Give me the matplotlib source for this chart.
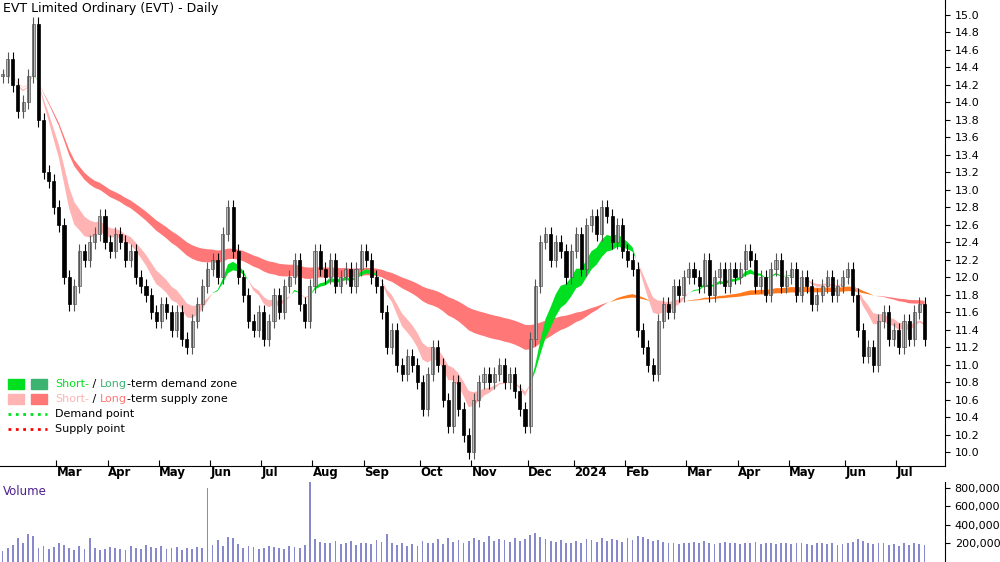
import numpy as np
import pandas as pd
import matplotlib
matplotlib.use("Agg")
import matplotlib.pyplot as plt
from matplotlib.patches import Rectangle

# closes, one candle per two trading days (Feb 2023 - Jul 2024)
closes = [14.3, 14.5, 14.2, 13.9, 14.0, 14.3, 14.9, 13.8, 13.2, 13.1, 12.8,
          12.6, 12.0, 11.7, 11.9, 12.3, 12.2, 12.4, 12.5, 12.7, 12.4,
          12.3, 12.5, 12.4, 12.2, 12.3, 12.0, 11.9, 11.8, 11.6, 11.5,
          11.7, 11.6, 11.4, 11.6, 11.3, 11.2, 11.5, 11.7, 11.9, 12.1,
          12.2, 12.0, 12.5, 12.8, 12.3, 12.0, 11.8, 11.5, 11.4, 11.6,
          11.3, 11.5, 11.8, 11.6, 11.9, 12.0, 12.2, 11.7, 11.5, 11.9,
          12.3, 12.1, 12.0, 12.2, 11.9, 12.0, 12.1, 11.9, 12.1, 12.3,
          12.2, 12.0, 11.9, 11.6, 11.2, 11.4, 11.0, 10.9, 11.1, 11.0, 10.8,
          10.5, 10.9, 11.2, 11.0, 10.6, 10.3, 10.8, 10.5, 10.2, 10.0,
          10.6, 10.8, 10.9, 10.8, 10.9, 11.0, 10.8, 10.9, 10.7, 10.5, 10.3,
          11.3, 11.9, 12.4, 12.5, 12.2, 12.4, 12.3, 12.0, 12.3,
          12.5, 12.1, 12.6, 12.7, 12.5, 12.8, 12.7, 12.4, 12.6, 12.3,
          12.2, 12.1, 11.4, 11.2, 11.0, 10.9, 11.5, 11.7, 11.6, 11.9, 11.8, 12.0,
          12.1, 12.0, 11.9, 12.2, 11.8, 12.0, 12.1, 11.9, 12.1, 12.0,
          12.1, 12.3, 12.2, 11.9, 12.0, 11.8, 12.1, 12.2, 11.9, 12.0,
          12.1, 11.8, 12.0, 11.9, 11.7, 11.8, 11.9, 12.0, 11.8, 11.9, 12.0,
          12.1, 11.8, 11.4, 11.1, 11.2, 11.0, 11.5, 11.6, 11.3, 11.4,
          11.2, 11.5, 11.3, 11.6, 11.7, 11.3]
volumes = [120, 150, 180, 260, 210, 300, 280, 150, 170, 140, 160,
           200, 180, 150, 130, 170, 140, 260, 150, 130, 140,
           160, 150, 140, 130, 170, 150, 140, 180, 160, 150,
           170, 140, 150, 160, 130, 150, 140, 160, 150, 800,
           180, 240, 170, 270, 260, 190, 150, 170, 160, 140,
           150, 170, 160, 150, 140, 170, 160, 150, 180, 1000,
           250, 220, 200, 210, 230, 190, 200, 230, 180, 200,
           210, 190, 240, 220, 300, 200, 180, 210, 170, 190, 170,
           230, 200, 210, 250, 190, 260, 220, 240, 200, 230,
           260, 240, 220, 280, 230, 250, 240, 220, 260, 230, 250,
           290, 310, 270, 250, 230, 220, 240, 210, 200,
           230, 210, 250, 240, 220, 260, 230, 250, 240, 220,
           260, 240, 280, 270, 250, 230, 240, 220, 200, 210, 190, 200,
           210, 220, 200, 230, 210, 190, 200, 220, 210, 200,
           190, 210, 200, 220, 190, 210, 200, 190, 210, 200,
           190, 200, 210, 190, 180, 200, 210, 190, 200, 180, 190,
           200, 220, 250, 230, 210, 190, 200, 210, 180, 190,
           170, 200, 180, 210, 190, 180]
month_labels = ["Mar", "Apr", "May", "Jun", "Jul", "Aug", "Sep", "Oct", "Nov", "Dec",
                "2024", "Feb", "Mar", "Apr", "May", "Jun", "Jul"]
month_starts = [10.5, 20.5, 30.5, 40.5, 50.5, 60.5, 70.5, 81.5, 91.5, 102.5,
                111.5, 121.5, 133.5, 143.5, 153.5, 164.5, 174.5]

c = np.array(closes)
o = np.r_[c[0], c[:-1]]
hi = np.maximum(o, c) + 0.08
lo = np.minimum(o, c) - 0.08
x = np.arange(len(c))
s = pd.Series(c)
sf, ss = s.ewm(span=9).mean().values, s.ewm(span=14).mean().values
lf, ls = s.ewm(span=55).mean().values, s.ewm(span=110).mean().values

fig = plt.figure(figsize=(10, 5.62), dpi=100)
ax = fig.add_axes([0, 0.17, 0.945, 0.83])
vax = fig.add_axes([0, 0, 0.945, 0.142])

# long-term zone
ax.fill_between(x, lf, ls, where=lf <= ls, color="#ff7777", lw=0, interpolate=True)
ax.fill_between(x, lf, ls, where=lf > ls, color="#ff7a1f", lw=0, interpolate=True)
# short-term zone
ax.fill_between(x, sf, ss, where=sf >= ss, color="#00e020", lw=0, interpolate=True)
ax.fill_between(x, sf, ss, where=sf < ss, color="#ffb3b3", lw=0, interpolate=True)

for i in x:
    up = c[i] >= o[i]
    ax.vlines(i, lo[i], hi[i], color="black" if not up else "#555555", lw=0.8)
    ax.add_patch(Rectangle((i - 0.3, min(o[i], c[i])), 0.6, max(abs(c[i] - o[i]), 0.02),
                           facecolor="#c0c0c0" if up else "black",
                           edgecolor="#555555" if up else "black", lw=0.5))

xmax = 184
ax.set_xlim(-0.5, xmax)
ax.set_ylim(9.84, 15.17)
ax.yaxis.tick_right()
ax.set_yticks(np.arange(10.0, 15.01, 0.2))
ax.set_yticklabels([f"{v:.1f}" for v in np.arange(10.0, 15.01, 0.2)], fontsize=8)
ax.set_xticks(month_starts)
ax.set_xticklabels([])
for m, lab in zip(month_starts, month_labels):
    ax.text(m + 0.1, 9.84, lab, fontsize=8.5, fontweight="bold", ha="left", va="top",
            transform=ax.transData, clip_on=False)
ax.tick_params(axis="x", direction="in", length=4)
for sp in ["top", "left"]:
    ax.spines[sp].set_visible(False)
ax.text(0.003, 0.995, "EVT Limited Ordinary (EVT) - Daily", transform=ax.transAxes,
        fontsize=9, va="top", ha="left")

# legend
lx, ly = 0.008, 0.165
ax.add_patch(Rectangle((lx, ly), 0.017, 0.022, transform=ax.transAxes, color="#00e020"))
ax.add_patch(Rectangle((lx + 0.025, ly), 0.017, 0.022, transform=ax.transAxes, color="#3cb371"))
ax.add_patch(Rectangle((lx, ly - 0.032), 0.017, 0.022, transform=ax.transAxes, color="#ffb3b3"))
ax.add_patch(Rectangle((lx + 0.025, ly - 0.032), 0.017, 0.022, transform=ax.transAxes, color="#ff7777"))
tx = lx + 0.05
def seg(y, parts):
    xx = tx
    for txt, col in parts:
        tt = ax.text(xx, y, txt, color=col, fontsize=8, transform=ax.transAxes, va="center")
        fig.canvas.draw()
        bb = tt.get_window_extent().transformed(ax.transAxes.inverted())
        xx = bb.x1
seg(ly + 0.011, [("Short-", "#00e020"), (" / ", "black"), ("Long", "#3cb371"), ("-term demand zone", "black")])
seg(ly - 0.021, [("Short-", "#ffb3b3"), (" / ", "black"), ("Long", "#ff7777"), ("-term supply zone", "black")])
ax.plot([lx, lx + 0.042], [ly - 0.053] * 2, ":", color="#00e020", lw=2, transform=ax.transAxes)
ax.plot([lx, lx + 0.042], [ly - 0.085] * 2, ":", color="red", lw=2, transform=ax.transAxes)
ax.text(tx, ly - 0.053, "Demand point", fontsize=8, transform=ax.transAxes, va="center")
ax.text(tx, ly - 0.085, "Supply point", fontsize=8, transform=ax.transAxes, va="center")

# volume
vax.bar(x, np.array(volumes) * 1000, width=0.35, color="#8888cc")
vax.set_xlim(-0.5, xmax)
vax.set_ylim(0, 860000)
vax.yaxis.tick_right()
vax.set_yticks([200000, 400000, 600000, 800000])
vax.set_yticklabels(["200,000", "400,000", "600,000", "800,000"], fontsize=8)
vax.set_xticks([])
for sp in ["top", "left", "bottom"]:
    vax.spines[sp].set_visible(False)
vax.text(0.003, 0.97, "Volume", color="#4b1f8c", fontsize=8.5, transform=vax.transAxes, va="top")

fig.savefig("out.png", dpi=100)
